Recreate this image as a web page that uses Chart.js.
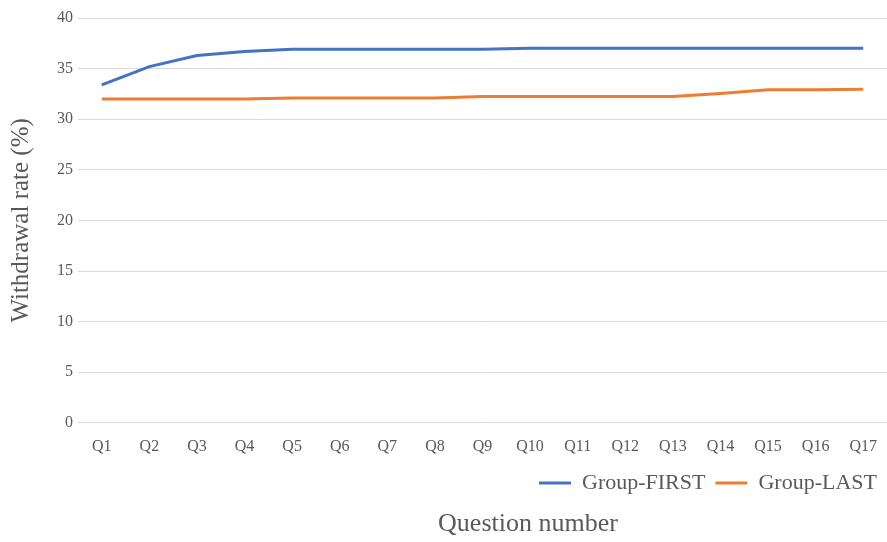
<!DOCTYPE html>
<html lang="en">
<head>
    <meta charset="UTF-8">
    <title>Withdrawal rate by question</title>
    <script src="https://cdn.jsdelivr.net/npm/chart.js"></script>
    <style>
        body { margin: 0; background: #fff; }
        .chart-box { width: 887px; height: 542px; }
    </style>
</head>
<body>
    <div class="chart-box">
        <canvas id="withdrawalChart"></canvas>
    </div>

    <script>
        // Data
        const questions = ["Q1", "Q2", "Q3", "Q4", "Q5", "Q6", "Q7", "Q8", "Q9",
            "Q10", "Q11", "Q12", "Q13", "Q14", "Q15", "Q16", "Q17"];
        const groupFirst = [33.4, 35.2, 36.3, 36.7, 36.9, 36.9, 36.9, 36.9, 36.9,
            37.0, 37.0, 37.0, 37.0, 37.0, 37.0, 37.0, 37.0];
        const groupLast = [32.0, 32.0, 32.0, 32.0, 32.1, 32.1, 32.1, 32.1, 32.25,
            32.25, 32.25, 32.25, 32.25, 32.55, 32.9, 32.9, 32.95];
        const yTicks = [0, 5, 10, 15, 20, 25, 30, 35, 40];

        const serif = "'Liberation Serif', 'Times New Roman', serif";
        const grey = "#595959";

        // x axis title sits below the legend, so draw it ourselves
        const bottomTitle = {
            id: "bottomTitle",
            afterDraw(chart) {
                const ctx = chart.ctx;
                ctx.save();
                ctx.font = "26px " + serif;
                ctx.fillStyle = grey;
                ctx.textAlign = "center";
                ctx.textBaseline = "middle";
                ctx.fillText("Question number", 528, 524);
                ctx.restore();
            }
        };

        const ctx = document.getElementById("withdrawalChart").getContext("2d");
        new Chart(ctx, {
            type: "line",
            data: {
                labels: questions,
                datasets: [{
                    label: "Group-FIRST",
                    data: groupFirst,
                    borderColor: "#4472C4",
                    backgroundColor: "#4472C4",
                    borderWidth: 3,
                    pointRadius: 0,
                    tension: 0
                }, {
                    label: "Group-LAST",
                    data: groupLast,
                    borderColor: "#ED7D31",
                    backgroundColor: "#ED7D31",
                    borderWidth: 3,
                    pointRadius: 0,
                    tension: 0
                }]
            },
            options: {
                responsive: true,
                maintainAspectRatio: false,
                animation: false,
                layout: { padding: { top: 18, right: 0, bottom: 38, left: 0 } },
                plugins: {
                    tooltip: { enabled: false },
                    legend: {
                        position: "bottom",
                        align: "end",
                        labels: {
                            usePointStyle: true,
                            pointStyle: "line",
                            pointStyleWidth: 32,
                            color: grey,
                            font: { family: serif, size: 22 },
                            padding: 10
                        }
                    }
                },
                scales: {
                    x: {
                        offset: true,
                        grid: { display: false },
                        border: { display: false },
                        ticks: { color: grey, font: { family: serif, size: 16 }, padding: 6 }
                    },
                    y: {
                        min: 0,
                        max: 40,
                        afterBuildTicks(axis) { axis.ticks = yTicks.map(v => ({ value: v })); },
                        afterFit(axis) { axis.width = 78; },
                        grid: { color: "#d9d9d9", drawTicks: false },
                        border: { display: false },
                        ticks: { color: grey, font: { family: serif, size: 16 }, padding: 5 },
                        title: {
                            display: true,
                            text: "Withdrawal rate (%)",
                            color: grey,
                            font: { family: serif, size: 25 },
                            padding: { top: 6, bottom: 0 }
                        }
                    }
                }
            },
            plugins: [bottomTitle]
        });
    </script>
</body>
</html>
